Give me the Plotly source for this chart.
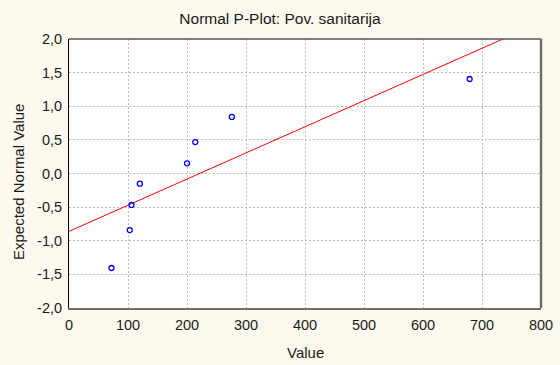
import numpy as np
import plotly.graph_objects as go

title = "Normal P-Plot: Pov. sanitarija"
x_title = "Value"
y_title = "Expected Normal Value"
values = [72, 103, 106, 120, 200, 214, 276, 679]
expected = [-1.405, -0.842, -0.468, -0.151, 0.151, 0.468, 0.842, 1.405]
x_ticks = [0, 100, 200, 300, 400, 500, 600, 700, 800]
y_ticks = [-2.0, -1.5, -1.0, -0.5, 0.0, 0.5, 1.0, 1.5, 2.0]
y_tick_labels = ["-2,0", "-1,5", "-1,0", "-0,5", "0,0", "0,5", "1,0", "1,5", "2,0"]
x_range = [0, 800]
y_range = [-2.0, 2.0]

slope, intercept = np.polyfit(values, expected, 1)
line_x = [x_range[0], x_range[1]]
line_y = [intercept + slope * v for v in line_x]

FAM = "Liberation Sans, Arial, sans-serif"
TXT = "#1a1a1a"

fig = go.Figure()
fig.add_trace(go.Scatter(x=line_x, y=line_y, mode="lines",
                         line=dict(color="#ff0000", width=1), hoverinfo="skip",
                         showlegend=False))
fig.add_trace(go.Scatter(x=values, y=expected, mode="markers",
                         marker=dict(symbol="circle-open", size=5, color="#0000ff",
                                     line=dict(width=1.3, color="#0000ff")),
                         showlegend=False))

grid = dict(showgrid=True, gridcolor="#bdbdbd", gridwidth=1, griddash="2px,2px")

W, H = 560, 365
L, R, T, B = 69, 19, 39, 57
PW, PH = W - L - R, H - T - B

fig.update_layout(
    width=W, height=H,
    margin=dict(l=L, r=R, t=T, b=B, autoexpand=False),
    paper_bgcolor="#fdf9ee", plot_bgcolor="#ffffff",
    font=dict(family=FAM, size=14, color=TXT),
    title=dict(text=title, x=0.5, xanchor="center", xref="container",
               yref="container", y=1 - 18.5 / H, yanchor="middle",
               font=dict(size=15.5)),
    xaxis=dict(range=x_range, tickvals=x_ticks, ticks="", zeroline=False,
               automargin=False, showline=True, linecolor="#6e6e6e", linewidth=2,
               ticklabelstandoff=3, tickfont=dict(size=14.5), **grid),
    yaxis=dict(range=y_range, tickvals=y_ticks, ticktext=y_tick_labels, ticks="",
               zeroline=False, automargin=False, showline=True,
               linecolor="#000000", linewidth=1,
               ticklabelstandoff=3, tickfont=dict(size=14.5), **grid),
    shapes=[
        dict(type="line", xref="paper", yref="paper", x0=0, x1=1, y0=1, y1=1,
             line=dict(color="#555555", width=1.5)),
        dict(type="line", xref="paper", yref="paper", x0=1, x1=1, y0=0, y1=1,
             line=dict(color="#6e6e6e", width=2.5)),
    ],
    annotations=[
        dict(text=x_title, xref="paper", yref="paper", x=0.5,
             y=-(352 - (H - B)) / PH, xanchor="center", yanchor="middle",
             showarrow=False, font=dict(size=15)),
        dict(text=y_title, xref="paper", yref="paper", x=-(L - 18.5) / PW,
             y=((H - B) - 182.5) / PH, xanchor="center", yanchor="middle",
             textangle=-90, showarrow=False, font=dict(size=15)),
    ],
)

fig.write_html("out.html", config={"displayModeBar": False},
               post_script="document.body.style.margin='0';")
